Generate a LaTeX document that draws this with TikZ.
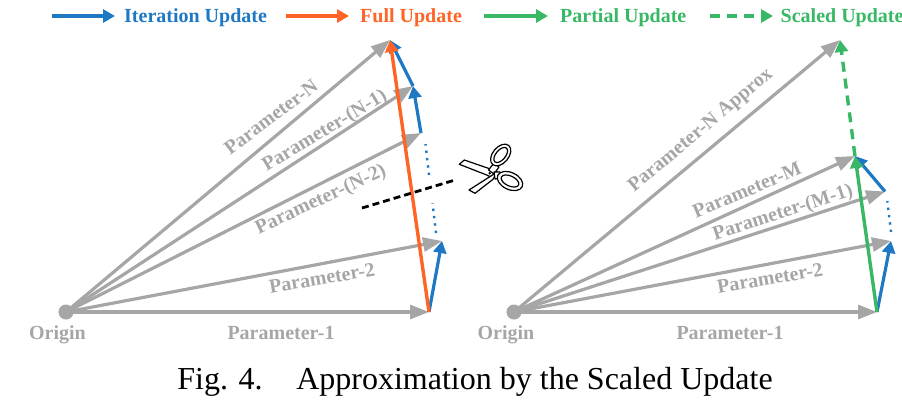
\documentclass[tikz,border=0pt]{standalone}
\usepackage{fontspec}
\setmainfont{Liberation Serif}
\usetikzlibrary{arrows.meta}
\definecolor{pgray}{HTML}{A6A6A6}
\definecolor{pblue}{HTML}{1F78C4}
\definecolor{porange}{HTML}{FF6427}
\definecolor{pgreen}{HTML}{38B864}
\tikzset{
  x=1pt,y=-1pt,
  gvec/.style={-{Triangle[length=19pt,width=14pt]},draw=pgray,fill=pgray,line width=3.2pt},
  bvec/.style={-{Triangle[length=12pt,width=13pt]},draw=pblue,line width=3.2pt},
  ovec/.style={-{Triangle[length=12pt,width=13pt]},draw=porange,line width=3.4pt},
  lvec/.style={-{Triangle[length=12pt,width=13pt]},draw=pgreen,line width=3.4pt},
  dvec/.style={lvec,dash pattern=on 10pt off 7pt},
  bdot/.style={draw=pblue,line width=2.4pt,dash pattern=on 2.4pt off 5pt},
  cutline/.style={draw=black,line width=2.8pt,dash pattern=on 7pt off 4pt},
  lab/.style={text=pgray,font=\fontsize{20}{22}\selectfont\bfseries,inner sep=0pt},
  leg/.style={font=\fontsize{20}{22}\selectfont\bfseries,inner sep=0pt,anchor=base west},
  dotnode/.style={circle,fill=pgray,inner sep=0pt,minimum size=15pt},
  scis/.style={draw=black,line width=1.2pt,fill=white,line join=round},
}
\begin{document}
\begin{tikzpicture}
\useasboundingbox (0,0) rectangle (902,400);
% legend
\coordinate (l1a) at (52,16);\coordinate (l1b) at (115,16);
\coordinate (l2a) at (286,16);\coordinate (l2b) at (349,16);
\coordinate (l3a) at (484,16);\coordinate (l3b) at (548,16);
\coordinate (l4a) at (710,16);\coordinate (l4b) at (773,16);
\draw[bvec] (l1a) -- (l1b);
\draw[ovec] (l2a) -- (l2b);
\draw[lvec] (l3a) -- (l3b);
\draw[dvec] (l4a) -- (l4b);
\node[leg,text=pblue] (t1) at (124,22) {Iteration Update};
\node[leg,text=porange] (t2) at (360,22) {Full Update};
\node[leg,text=pgreen] (t3) at (560,22) {Partial Update};
\node[leg,text=pgreen] (t4) at (780.5,22) {Scaled Update};
% left
\node[dotnode] (oL) at (66,312) {};
\coordinate (p1) at (429,312);\coordinate (p2) at (442,241);
\coordinate (n2) at (421,133);\coordinate (n1) at (413,86);\coordinate (n) at (390,40);
\draw[gvec] (oL.center) -- (p1);
\draw[gvec] (oL.center) -- (p2);
\draw[gvec] (oL.center) -- (n2);
\draw[gvec] (oL.center) -- (n1);
\draw[gvec] (oL.center) -- (n);
\coordinate (d1) at (436,233);\coordinate (d2) at (432.5,203);
\coordinate (d3) at (429,175);\coordinate (d4) at (425.5,144);
\draw[bdot] (d1) -- (d2);
\draw[bdot] (d3) -- (d4);
\draw[bvec] (p1) -- (p2);
\draw[bvec] (n2) -- (n1);
\draw[bvec] (n1) -- (n);
\draw[ovec] (p1) -- (n);
\coordinate (c1) at (362,208);\coordinate (c2) at (455,180);
\draw[cutline] (c1) -- (c2);
\node[lab,anchor=base] (oLt) at (57.5,339) {Origin};
\node[lab,anchor=base] (p1t) at (281,339) {Parameter-1};
\node[lab,rotate=9.5] (p2t) at (322,278) {Parameter-2};
\node[lab,rotate=25] (n2t) at (321,200) {Parameter-(N-2)};
\node[lab,rotate=31] (n1t) at (325,131) {Parameter-(N-1)};
\node[lab,rotate=37] (nt) at (271,117) {Parameter-N};
% scissors
\draw[scis] (488.3,168.3) -- (464.3,160) -- (459.3,164.3) -- (486.7,175) -- (493,178) -- (497,172) -- cycle;
\draw[scis] (496.7,172.3) -- (469,190) -- (475,193.3) -- (493,179.3) -- cycle;
\draw[scis] (488.5,170) -- (494,163) -- (499,167) -- (494,174) -- cycle;
\draw[scis] (494,172) -- (500,172) -- (501,178) -- (495,179) -- cycle;
\draw[scis,rotate around={50:(500.7,155)}] (500.7,155) ellipse (12.5pt and 8pt);
\draw[scis,rotate around={50:(500.7,155)}] (500.7,155) ellipse (9pt and 4.8pt);
\draw[scis,rotate around={-25:(510,181)}] (510,181) ellipse (13.5pt and 8.5pt);
\draw[scis,rotate around={-25:(510,181)}] (510,181) ellipse (9.5pt and 5pt);
\fill (489.7,173.3) circle (1.3pt);
% right
\node[dotnode] (oR) at (514,312) {};
\coordinate (q1) at (877,312);\coordinate (q2) at (891,241);
\coordinate (m) at (855,156);\coordinate (a) at (840,40);
\coordinate (q3) at (885,191.5);
\draw[gvec] (oR.center) -- (q1);
\draw[gvec] (oR.center) -- (q2);
\draw[gvec] (oR.center) -- (q3);
\draw[gvec] (oR.center) -- (m);
\draw[gvec] (oR.center) -- (a);
\coordinate (e1) at (891,232);\coordinate (e2) at (887.3,201);
\draw[bdot] (e1) -- (e2);
\draw[bvec] (q1) -- (q2);
\draw[bvec] (q3) -- (m);
\draw[lvec] (q1) -- (m);
\draw[dvec] (m) -- (a);
\node[lab,anchor=base] (oRt) at (506,339) {Origin};
\node[lab,anchor=base] (q1t) at (730,339) {Parameter-1};
\node[lab,rotate=9.5] (q2t) at (770,278) {Parameter-2};
\node[lab,rotate=18] (q3t) at (783,213) {Parameter-(M-1)};
\node[lab,rotate=23] (mt) at (747,190) {Parameter-M};
\node[lab,rotate=40] (at) at (701,131) {Parameter-N Approx};
% caption
\node[inner sep=0pt,font=\fontsize{32}{36}\selectfont,anchor=base] (cap) at (475,389) {Fig. 4.\hspace{23pt} Approximation by the Scaled Update};
\end{tikzpicture}
\end{document}
